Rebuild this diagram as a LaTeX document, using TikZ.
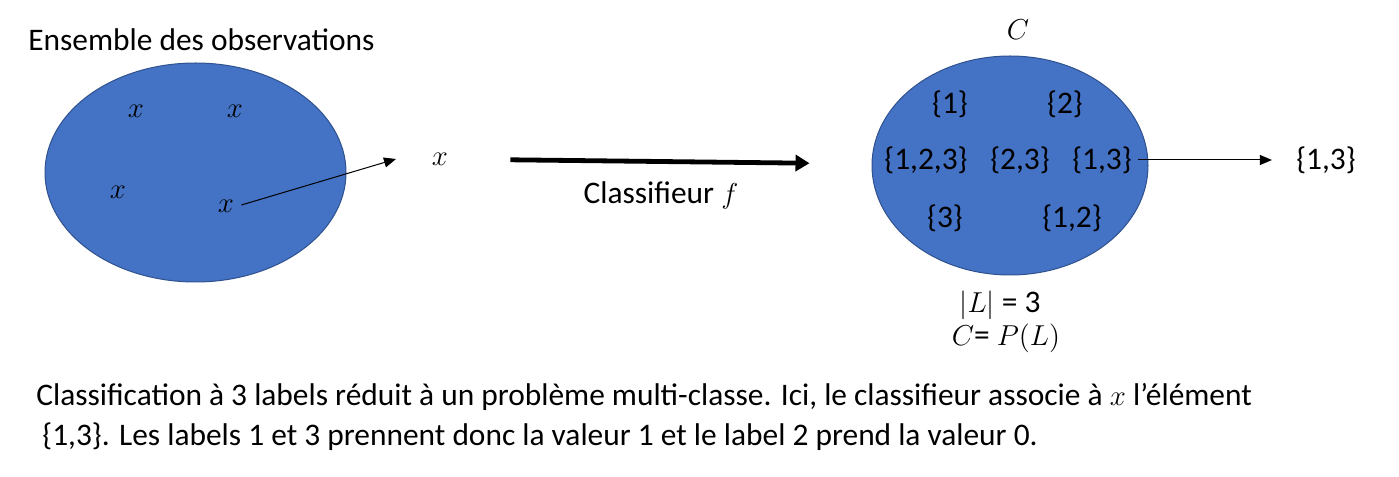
\documentclass[tikz,border=0pt]{standalone}
\usepackage{fontspec}
\setmainfont{Carlito}
\usepackage{tikz}
\usetikzlibrary{shapes.geometric,arrows.meta,positioning}
\definecolor{setfill}{HTML}{4472C4}
\definecolor{setdraw}{HTML}{2F528F}

\begin{document}
\begin{tikzpicture}[
    x=0.5pt, y=0.5pt,
    every node/.style={font=\fontsize{15.7}{20}\selectfont, inner sep=1pt},
    setblob/.style={ellipse, draw=setdraw, fill=setfill, line width=0.5pt, inner sep=0pt},
    thinarrow/.style={-{Triangle[length=6pt, width=5pt]}, line width=0.5pt},
    thickarrow/.style={-{Triangle[length=7pt, width=8pt]}, line width=2.4pt}
]
    \useasboundingbox (0,0) rectangle (1399,477);

    % Set of observations
    \node[anchor=west] (title) at (26,437) {Ensemble des observations};
    \node[setblob, minimum width=150.5pt, minimum height=109.5pt] (Obs) at (195.5,304.5) {};
    \node (x1) at (136,366) {$x$};
    \node (x2) at (235,366) {$x$};
    \node (x3) at (118,285) {$x$};
    \node (x4) at (226,271) {$x$};
    \coordinate (xtip) at (396,318);
    \draw[thinarrow] (x4.east) ++(5,1) -- (xtip);

    % Observation picked
    \node (xobs) at (440,318) {$x$};

    % Set of label subsets
    \node (Ctitle) at (1018,447) {$C$};
    \node[setblob, minimum width=138pt, minimum height=109.5pt] (Cset) at (1010,311.5) {};
    \node (s1) at (950,373) {\{1\}};
    \node (s2) at (1065,373) {\{2\}};
    \node (s123) at (926,317) {\{1,2,3\}};
    \node (s23) at (1020,317) {\{2,3\}};
    \node (s13) at (1102,317) {\{1,3\}};
    \node (s3) at (945,259) {\{3\}};
    \node (s12) at (1072,259) {\{1,2\}};

    % Classifier
    \draw[thickarrow, shorten <=30pt, shorten >=31pt] (xobs) -- (Cset)
        node[midway, below=8pt] (clf) {Classifieur $f$};

    % Output
    \node (out) at (1326,317) {\{1,3\}};
    \draw[thinarrow, shorten <=2pt, shorten >=11pt] (s13.east) -- (out.west);

    % Cardinal and power set
    \node (card) at (1000,172) {$|L|$ = 3};
    \node (power) at (1006,139) {$C$= $P(L)$};

    % Caption
    \node[anchor=north west, align=left] (caption) at (34,96) {Classification à 3 labels réduit à un problème multi-classe. Ici, le classifieur associe à $x$ l’élément\\
    \hspace{3pt}\{1,3\}. Les labels 1 et 3 prennent donc la valeur 1 et le label 2 prend la valeur 0.};
\end{tikzpicture}
\end{document}
